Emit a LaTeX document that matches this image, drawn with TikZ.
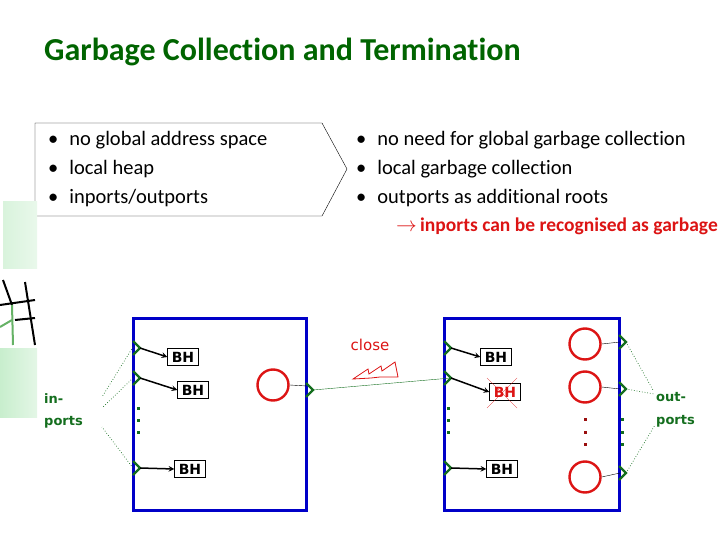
\documentclass[tikz,border=0pt]{standalone}
\usepackage{fontspec}
\setmainfont[Ligatures={NoCommon}]{Carlito}
\newfontfamily\tahoma{DejaVu Sans}
\usepackage{tikz}
\usetikzlibrary{arrows}

\definecolor{titlegreen}{RGB}{0,100,0}
\definecolor{portgreen}{RGB}{20,110,30}
\definecolor{boxblue}{RGB}{0,0,200}
\definecolor{rootred}{RGB}{220,20,20}
\definecolor{palegreen}{RGB}{200,238,205}

\begin{document}
\begin{tikzpicture}[x=1pt, y=-1pt,
      bullet/.style={anchor=base west, inner sep=0pt, font=\fontsize{20.5}{22}\selectfont},
      bhbox/.style={draw, thin, inner sep=2pt, minimum width=31pt, minimum height=17pt,
        font=\tahoma\bfseries\fontsize{14}{14}\selectfont},
      port/.style={draw=portgreen, line width=2.2pt, line join=miter},
      node/.style={draw=rootred, line width=2.4pt, circle, minimum size=31pt, inner sep=0pt},
      ref/.style={-stealth, line width=1.5pt},
      portlabel/.style={anchor=base west, inner sep=0pt, text=portgreen,
        font=\tahoma\bfseries\fontsize{13}{13}\selectfont},
      hint/.style={portgreen, dotted, line width=0.7pt},
      pe/.style={draw=boxblue, line width=3pt}]
      \useasboundingbox (0,0) rectangle (720,540);
      \node[anchor=base west, inner sep=0pt, text=titlegreen,
        font=\bfseries\fontsize{32}{34}\selectfont] (title) at (44,61)
        {Garbage Collection and Termination};
      % left bullet box
      \draw[thin] (35,123) -- (322,123) -- (347,169) -- (322,216) -- (35,216) -- cycle;
      \node[bullet] (lb1) at (48,146) {\textbullet\hspace{11pt}no global address space};
      \node[bullet] (lb2) at (48,175) {\textbullet\hspace{11pt}local heap};
      \node[bullet] (lb3) at (48,204) {\textbullet\hspace{11pt}inports/outports};
      \node[bullet] (rb1) at (356,146) {\textbullet\hspace{11pt}no need for global garbage collection};
      \node[bullet] (rb2) at (356,175) {\textbullet\hspace{11pt}local garbage collection};
      \node[bullet] (rb3) at (356,204) {\textbullet\hspace{11pt}outports as additional roots};
      \node[bullet, text=rootred, font=\fontsize{19.5}{21}\selectfont] (rb4) at (396,232)
        {$\rightarrow$\,\textbf{inports can be recognised as garbage}};
      % background decoration
      \fill[left color=palegreen!70, right color=palegreen!40] (3,202) rectangle (37,268);
      \fill[left color=palegreen, right color=palegreen!50] (0,348) rectangle (37,417);
      \draw[line width=2pt] (3,280) -- (12,305);
      \draw[line width=2pt] (25,282) -- (35,345);
      \draw[line width=2pt] (0,305) -- (35,300);
      \draw[line width=2pt] (15,320) -- (35,318);
      \draw[line width=2pt, green!50!black!60] (12,305) -- (13,345);
      \draw[line width=2pt, green!50!black!60] (0,327) -- (12,320);
      % processing elements
      \draw[pe] (133,318) rectangle (306,510);
      \draw[pe] (444,318) rectangle (619,510);
      % left element
      \node[bhbox] (bha) at (183,357) {BH};
      \node[bhbox] (bhb) at (193,390) {BH};
      \node[bhbox] (bhc) at (190,469) {BH};
      \coordinate (ina) at (140,348);
      \coordinate (inb) at (140,378);
      \coordinate (inc) at (140,468);
      \foreach \p in {ina,inb,inc} {
        \draw[port] ([shift={(-7,-7)}]\p) -- (\p) -- ([shift={(-7,7)}]\p);
      }
      \draw[ref] (ina) -- (bha.west);
      \draw[ref] (inb) -- (bhb.west);
      \draw[ref] (inc) -- (bhc.west);
      \foreach \y in {407,419,431} {
        \fill[portgreen] (137,\y) rectangle ++(2.5,2.5);
      }
      \node[node] (rootl) at (273,385) {};
      \coordinate (outl) at (313,390);
      \draw[port] ([shift={(-7,-7)}]outl) -- (outl) -- ([shift={(-7,7)}]outl);
      \draw (rootl.east) -- (307,386);
      % right element
      \node[bhbox] (bhd) at (496,357) {BH};
      \node[bhbox, text=rootred] (bhe) at (505,392) {BH};
      \node[bhbox] (bhf) at (502,469) {BH};
      \draw[rootred, very thin] (487,378) -- (517,408);
      \draw[rootred, very thin] (517,378) -- (487,408);
      \coordinate (ind) at (451,348);
      \coordinate (ine) at (451,378);
      \coordinate (inf) at (451,468);
      \foreach \p in {ind,ine,inf} {
        \draw[port] ([shift={(-7,-7)}]\p) -- (\p) -- ([shift={(-7,7)}]\p);
      }
      \draw[ref] (ind) -- (bhd.west);
      \draw[ref] (ine) -- (bhe.west);
      \draw[ref] (inf) -- (bhf.west);
      \foreach \y in {407,419,431} {
        \fill[portgreen] (447,\y) rectangle ++(2.5,2.5);
      }
      \node[node] (roota) at (585,344) {};
      \node[node] (rootb) at (585,387) {};
      \node[node] (rootc) at (585,477) {};
      \coordinate (outa) at (626,342);
      \coordinate (outb) at (626,389);
      \coordinate (outc) at (626,473);
      \foreach \p in {outa,outb,outc} {
        \draw[port] ([shift={(-7,-7)}]\p) -- (\p) -- ([shift={(-7,7)}]\p);
      }
      \draw (roota.east) -- (620,342);
      \draw (rootb.east) -- (620,389);
      \draw (rootc.east) -- (620,473);
      \foreach \y in {418,431,443} {
        \fill[rootred!70!black] (584,\y) rectangle ++(2.5,2.5);
        \fill[portgreen] (621,\y) rectangle ++(2.5,2.5);
      }
      % connection to be closed
      \draw[portgreen, thin] (outl) -- (ine);
      \node[text=rootred, font=\tahoma\fontsize{15}{15}\selectfont] (close) at (370,345) {close};
      \draw[rootred, thick, line join=miter] (353,379) -- (368,369) -- (369,374) -- (381,366)
        -- (382,371) -- (395,362) -- (398,377) -- (380,377) -- (371,378) -- cycle;
      % port labels
      \node[portlabel] (inlbl) at (44,403) {in-};
      \node[portlabel] (inlbl2) at (44,425) {ports};
      \node[portlabel] (outlbl) at (656,401) {out-};
      \node[portlabel] (outlbl2) at (656,424) {ports};
      \draw[hint] (133,347) -- (102,397);
      \draw[hint] (133,378) -- (102,408);
      \draw[hint] (133,468) -- (102,427);
      \draw[hint] (626,342) -- (653,390);
      \draw[hint] (626,389) -- (654,394);
      \draw[hint] (626,473) -- (655,425);
\end{tikzpicture}
\end{document}
